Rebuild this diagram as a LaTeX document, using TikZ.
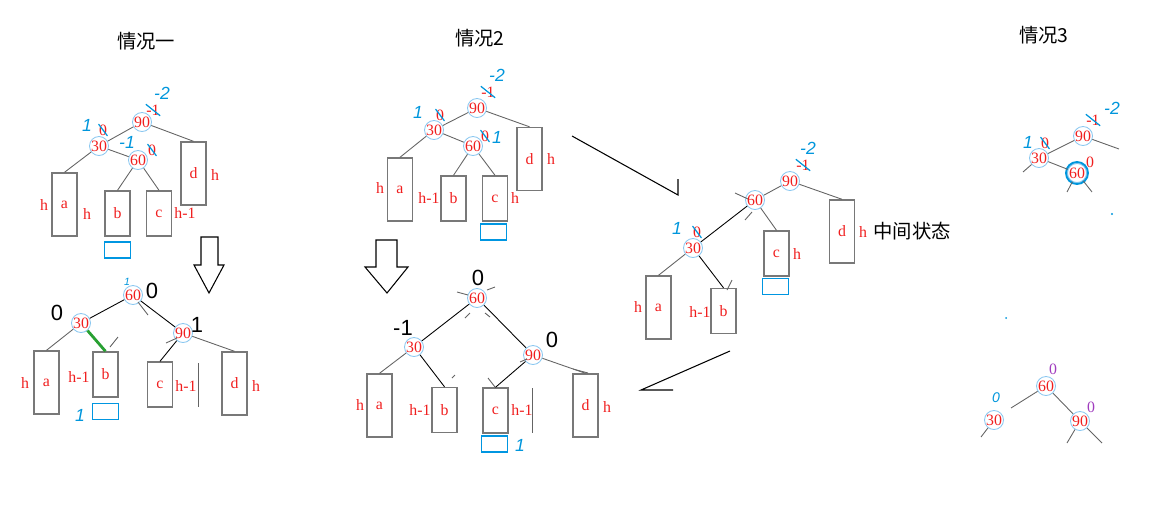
\documentclass[tikz,border=0pt]{standalone}
\usepackage{fontspec}
\setmainfont{Liberation Serif}
\newfontfamily\cjk{Noto Sans CJK SC}
\newfontfamily\hand{Liberation Sans}
\definecolor{ringblue}{RGB}{140,200,240}
\definecolor{inkred}{RGB}{240,30,30}
\definecolor{penblue}{RGB}{0,150,220}
\definecolor{slotblue}{RGB}{0,150,225}
\definecolor{edgegray}{RGB}{100,100,100}
\definecolor{boxgray}{RGB}{120,120,120}
\definecolor{leafgreen}{RGB}{40,160,50}
\definecolor{markpurple}{RGB}{160,60,190}

\begin{document}
\begin{tikzpicture}[x=0.2mm, y=-0.2mm,
  avl/.style={circle, draw=ringblue, line width=0.5pt, text=inkred, inner sep=0pt,
              minimum size=3.4mm, font=\fontsize{9}{9}\selectfont},
  leafbox/.style={draw=boxgray, line width=0.8pt, text=inkred, inner sep=0pt,
                  minimum width=5mm, font=\fontsize{9}{9}\selectfont},
  tallbox/.style={leafbox, minimum height=12.6mm},
  shortbox/.style={leafbox, minimum height=9mm},
  hlabel/.style={text=inkred, inner sep=0pt, font=\fontsize{9}{9}\selectfont},
  pen/.style={text=penblue, inner sep=0pt, font=\hand\itshape\fontsize{10}{10}\selectfont},
  strike/.style={draw=penblue, line width=0.7pt, line cap=round},
  slot/.style={draw=slotblue, line width=1.1pt, minimum width=5.2mm,
               minimum height=3.2mm, inner sep=0pt},
  bal/.style={inner sep=0pt, font=\hand\fontsize{12.5}{12.5}\selectfont},
  title/.style={inner sep=0pt, font=\cjk\fontsize{11}{11}\selectfont},
  tree/.style={draw=edgegray, line width=0.5pt},
  moved/.style={draw=black, line width=0.5pt},
  rotedge/.style={draw=leafgreen, line width=1.6pt},
  stray/.style={draw=edgegray, line width=0.5pt},
  hollow/.style={draw=black, line width=0.6pt, fill=white},
  sketch/.style={draw=black, line width=0.6pt}]
  \useasboundingbox (0,0) rectangle (1156,504);

  % titles
  \node[title] (t1) at (146,41) {情况一};
  \node[title] (t2) at (480,38) {情况2};
  \node[title] (t3) at (1044,35) {情况3};

  % case 1, before
  \node[avl] (A90) at (142,122) {90};
  \node[avl] (A30) at (99,146) {30};
  \node[avl] (A60) at (138,160) {60};
  \node[tallbox] (Aa) at (64.5,204.5) {a};
  \node[shortbox] (Ab) at (117.5,213.5) {b};
  \node[shortbox] (Ac) at (159,213.5) {c};
  \node[tallbox] (Ad) at (193.5,173.5) {d};
  \draw[tree] (A90) -- (A30);
  \draw[tree] (A90) -- (Ad.north);
  \draw[tree] (A30) -- (Aa.north);
  \draw[tree] (A30) -- (A60);
  \draw[tree] (A60) -- (Ab.north);
  \draw[tree] (A60) -- (Ac.north);
  \node[hlabel] (Aha) at (44,205) {h};
  \node[hlabel] (Ahb) at (87,214) {h};
  \node[hlabel] (Ahc) at (185,213) {h-1};
  \node[hlabel] (Ahd) at (215,175) {h};
  \node[slot] (As) at (117.5,250) {};
  \node[pen] (Ap1) at (162,93) {-2};
  \node[hlabel] (Ar1) at (153,110) {-1};
  \draw[strike] (Ar1.north west) -- (Ar1.south east);
  \node[pen] (Ap2) at (87,125) {1};
  \node[hlabel] (Ar2) at (103,130) {0};
  \draw[strike] (Ar2.north west) -- (Ar2.south east);
  \node[pen] (Ap3) at (127,142) {-1};
  \node[hlabel] (Ar3) at (152,150) {0};
  \draw[strike] (Ar3.north west) -- (Ar3.south east);

  \draw[hollow] (201,237) -- (218,237) -- (218,265) -- (224,265) -- (209,293)
    -- (194,265) -- (201,265) -- cycle;

  % case 1, after
  \node[avl] (B60) at (133,295) {60};
  \node[avl] (B30) at (81,323) {30};
  \node[avl] (B90) at (183,333) {90};
  \node[tallbox] (Ba) at (46.5,382.5) {a};
  \node[shortbox] (Bb) at (105.5,374.5) {b};
  \node[shortbox] (Bc) at (160,384.5) {c};
  \node[tallbox] (Bd) at (234.5,383.5) {d};
  \draw[moved] (B60) -- (B30);
  \draw[moved] (B60) -- (B90);
  \draw[tree] (B30) -- (Ba.north);
  \draw[rotedge] (B30) -- (Bb.north);
  \draw[moved] (B90) -- (Bc.north);
  \draw[tree] (B90) -- (Bd.north);
  \draw[stray] (138,302) -- (148,315);
  \draw[stray] (110,347) -- (118,337);
  \draw[stray] (166,343) -- (177,338);
  \draw[stray] (198,363) -- (198,407);
  \node[hlabel] (Bha) at (25,383) {h};
  \node[hlabel] (Bhb) at (79,377) {h-1};
  \node[hlabel] (Bhc) at (186,386) {h-1};
  \node[hlabel] (Bhd) at (256,386) {h};
  \node[slot] (Bs) at (105.5,411.5) {};
  \node[pen] (Bp1) at (80,415) {1};
  \node[pen, font=\hand\itshape\fontsize{6}{6}\selectfont] (Bp2) at (127,282) {1};
  \node[bal] (Bk60) at (152,291) {0};
  \node[bal] (Bk30) at (57,313) {0};
  \node[bal] (Bk90) at (197,325) {1};

  % case 2, before
  \node[avl] (C90) at (477,108) {90};
  \node[avl] (C30) at (434,130) {30};
  \node[avl] (C60) at (473,146) {60};
  \node[tallbox] (Ca) at (400,189.5) {a};
  \node[shortbox] (Cb) at (453.5,198.5) {b};
  \node[shortbox] (Cc) at (495,198.5) {c};
  \node[tallbox] (Cd) at (529.5,159) {d};
  \draw[tree] (C90) -- (C30);
  \draw[tree] (C90) -- (Cd.north);
  \draw[tree] (C30) -- (Ca.north);
  \draw[tree] (C30) -- (C60);
  \draw[tree] (C60) -- (Cb.north);
  \draw[tree] (C60) -- (Cc.north);
  \node[hlabel] (Cha) at (380,188) {h};
  \node[hlabel] (Chb) at (429,198) {h-1};
  \node[hlabel] (Chc) at (515,198) {h};
  \node[hlabel] (Chd) at (551,159) {h};
  \node[slot] (Cs) at (493.5,232) {};
  \node[pen] (Cp1) at (497,75) {-2};
  \node[hlabel] (Cr1) at (488,92) {-1};
  \draw[strike] (Cr1.north west) -- (Cr1.south east);
  \node[pen] (Cp2) at (418,112) {1};
  \node[hlabel] (Cr2) at (440,115) {0};
  \draw[strike] (Cr2.north west) -- (Cr2.south east);
  \node[hlabel] (Cr3) at (485,136) {0};
  \draw[strike] (Cr3.north west) -- (Cr3.south east);
  \node[pen] (Cp3) at (497,137) {1};

  \draw[hollow] (376,240) -- (397,240) -- (397,267) -- (408,267) -- (387,293)
    -- (365,267) -- (376,267) -- cycle;

  % case 2, after
  \node[avl] (D60) at (477,298) {60};
  \node[avl] (D30) at (414,347) {30};
  \node[avl] (D90) at (533,355) {90};
  \node[tallbox] (Da) at (379.5,405.5) {a};
  \node[shortbox] (Db) at (444.5,410) {b};
  \node[shortbox] (Dc) at (495.5,410.5) {c};
  \node[tallbox] (Dd) at (585.5,405.5) {d};
  \draw[moved] (D60) -- (D30);
  \draw[moved] (D60) -- (D90);
  \draw[tree] (D30) -- (Da.north);
  \draw[moved] (D30) -- (Db.north);
  \draw[moved] (D90) -- (Dc.north);
  \draw[tree] (D90) -- (Dd.north);
  \draw[stray] (457,292) -- (468,295);
  \draw[stray] (487,290) -- (495,287);
  \draw[stray] (465,318) -- (470,313);
  \draw[stray] (485,313) -- (490,317);
  \draw[stray] (452,378) -- (455,375);
  \draw[stray] (488,378) -- (495,387);
  \draw[stray] (520,362) -- (527,359);
  \draw[stray] (573,369) -- (588,373);
  \draw[stray] (532,388) -- (532,433);
  \node[hlabel] (Dha) at (360,405) {h};
  \node[hlabel] (Dhb) at (420,410) {h-1};
  \node[hlabel] (Dhc) at (522,410) {h-1};
  \node[hlabel] (Dhd) at (607,407) {h};
  \node[slot] (Ds) at (494.5,444) {};
  \node[pen] (Dp1) at (520,445) {1};
  \node[bal] (Dk60) at (478,278) {0};
  \node[bal] (Dk30) at (403,328) {-1};
  \node[bal] (Dk90) at (552,340) {0};

  % middle state
  \node[avl] (M90) at (790,181) {90};
  \node[avl] (M60) at (755,200) {60};
  \node[avl] (M30) at (693,248) {30};
  \node[tallbox] (Ma) at (658.5,307.5) {a};
  \node[shortbox] (Mb) at (723.5,311) {b};
  \node[shortbox] (Mc) at (776.5,253.5) {c};
  \node[tallbox] (Md) at (842,231.5) {d};
  \draw[tree] (M90) -- (M60);
  \draw[tree] (M90) -- (Md.north);
  \draw[moved] (M60) -- (M30);
  \draw[tree] (M60) -- (Mc.north);
  \draw[tree] (M30) -- (Ma.north);
  \draw[moved] (M30) -- (Mb.north);
  \draw[stray] (735,193) -- (748,199);
  \draw[stray] (745,220) -- (752,212);
  \draw[stray] (727,290) -- (732,280);
  \node[hlabel] (Mha) at (638,307) {h};
  \node[hlabel] (Mhb) at (700,312) {h-1};
  \node[hlabel] (Mhc) at (797,254) {h};
  \node[hlabel] (Mhd) at (863,232) {h};
  \node[title] (Mt) at (912,231) {中间状态};
  \node[slot] (Ms) at (775.5,286.5) {};
  \node[pen] (Mp1) at (808,148) {-2};
  \node[hlabel] (Mr1) at (803,165) {-1};
  \draw[strike] (Mr1.north west) -- (Mr1.south east);
  \node[pen] (Mp2) at (677,228) {1};
  \node[hlabel] (Mr2) at (697,232) {0};
  \draw[strike] (Mr2.north west) -- (Mr2.south east);

  % hand drawn arrows
  \coordinate (s1) at (572,136);
  \coordinate (e1) at (678,195);
  \coordinate (h1) at (678,179);
  \draw[sketch] (s1) -- (e1) -- (h1);
  \coordinate (s2) at (730,351);
  \coordinate (e2) at (641,390);
  \coordinate (h2) at (673,390);
  \draw[sketch] (s2) -- (e2) -- (h2);

  % case 3, before
  \node[avl] (E90) at (1083,136) {90};
  \node[avl] (E30) at (1039,158) {30};
  \node[avl] (E60) at (1077,173) {60};
  \draw[draw=penblue, line width=1.1pt] (E60) circle (11);
  \coordinate (Eq1) at (1119,149);
  \coordinate (Eq2) at (1023,172);
  \coordinate (Eq3) at (1067,192);
  \coordinate (Eq4) at (1092,192);
  \draw[tree] (E90) -- (E30);
  \draw[tree] (E90) -- (Eq1);
  \draw[tree] (E30) -- (Eq2);
  \draw[tree] (E30) -- (E60);
  \draw[tree] (E60) -- (Eq3);
  \draw[tree] (E60) -- (Eq4);
  \node[pen] (Ep1) at (1112,108) {-2};
  \node[hlabel] (Er1) at (1093,120) {-1};
  \draw[strike] (Er1.north west) -- (Er1.south east);
  \node[pen] (Ep2) at (1028,142) {1};
  \node[hlabel] (Er2) at (1045,143) {0};
  \draw[strike] (Er2.north west) -- (Er2.south east);
  \node[hlabel] (Er3) at (1090,162) {0};
  \fill[penblue] (1112,214) circle (1.2);
  \fill[penblue] (1006,318) circle (1);

  % case 3, after
  \node[avl] (F60) at (1046,386) {60};
  \node[avl] (F30) at (994,420) {30};
  \node[avl] (F90) at (1080,421) {90};
  \coordinate (Fq1) at (1011,408);
  \coordinate (Fq2) at (981,437);
  \coordinate (Fq3) at (1067,443);
  \coordinate (Fq4) at (1102,443);
  \draw[tree] (F60) -- (Fq1);
  \draw[tree] (F60) -- (F90);
  \draw[tree] (F30) -- (Fq2);
  \draw[tree] (F90) -- (Fq3);
  \draw[tree] (F90) -- (Fq4);
  \node[hlabel, text=markpurple] (Fk60) at (1053,369) {0};
  \node[hlabel, text=markpurple] (Fk90) at (1091,407) {0};
  \node[pen, font=\hand\itshape\fontsize{8}{8}\selectfont] (Fp1) at (996,398) {0};
\end{tikzpicture}
\end{document}
